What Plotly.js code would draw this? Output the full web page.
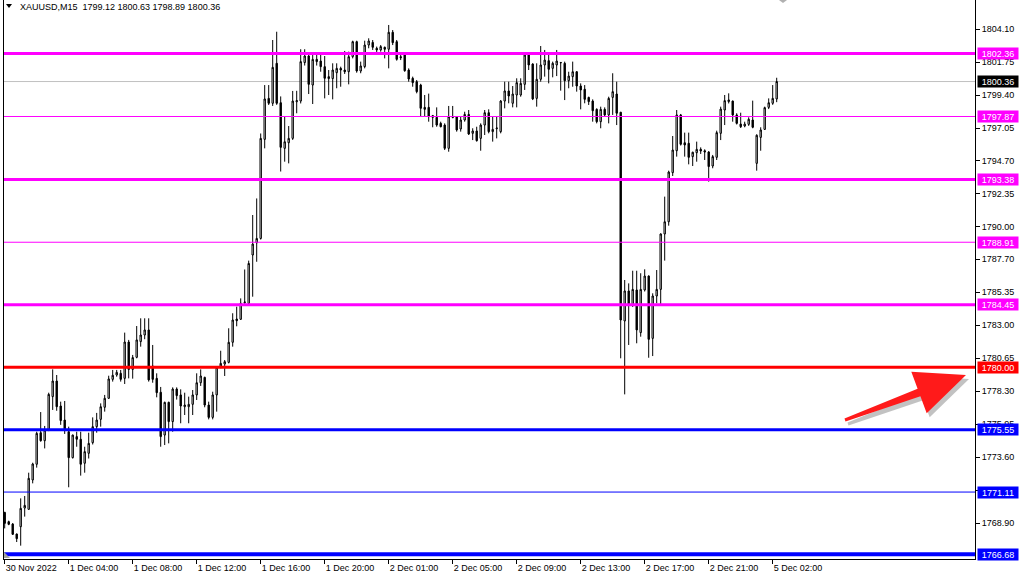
<!DOCTYPE html>
<html><head><meta charset="utf-8">
<script src="https://cdn.plot.ly/plotly-3.0.1.min.js"></script>
<style>html,body{margin:0;padding:0;background:#fff;}#chart{width:1022px;height:578px;}</style>
</head><body><div id="chart"></div>
<script>
// ---- data (XAUUSD M15) ----
const open = [1769.66,1769.00,1768.83,1768.12,1768.64,1769.97,1769.88,1771.97,1773.09,1775.34,1774.77,1775.53,1777.91,1779.02,1777.24,1776.24,1775.41,1773.56,1775.06,1774.87,1773.16,1773.87,1774.63,1775.77,1776.29,1777.15,1777.79,1779.14,1779.45,1779.57,1779.21,1781.80,1779.85,1780.71,1781.83,1782.30,1782.66,1780.09,1779.21,1778.22,1775.17,1777.50,1776.13,1778.45,1778.03,1777.19,1777.19,1777.36,1778.03,1778.90,1779.28,1777.31,1776.43,1778.03,1780.09,1780.23,1780.35,1781.78,1783.44,1783.42,1784.60,1784.55,1788.00,1788.87,1789.18,1796.24,1799.16,1798.81,1801.66,1798.85,1795.60,1796.00,1796.31,1798.92,1798.97,1801.71,1802.18,1800.11,1801.94,1801.82,1801.42,1800.71,1800.57,1800.99,1801.30,1801.18,1801.06,1802.13,1803.20,1801.11,1801.42,1802.96,1803.15,1802.73,1802.61,1802.80,1802.66,1803.87,1803.20,1802.13,1802.25,1801.18,1800.59,1800.35,1800.11,1798.52,1798.52,1797.93,1797.81,1797.38,1797.26,1795.60,1797.86,1797.86,1796.98,1797.62,1798.02,1796.67,1796.84,1796.31,1797.26,1798.14,1796.79,1797.00,1796.79,1798.97,1799.69,1798.81,1799.40,1799.40,1800.16,1802.25,1801.61,1799.16,1800.52,1801.54,1801.85,1801.30,1801.54,1801.72,1801.66,1800.42,1800.71,1801.06,1800.04,1799.81,1799.23,1798.97,1798.38,1797.50,1798.38,1797.98,1799.23,1799.47,1798.17,1783.30,1785.44,1784.44,1785.51,1782.47,1785.51,1786.50,1782.06,1785.08,1785.55,1789.50,1790.37,1793.87,1795.43,1797.98,1796.00,1795.96,1795.01,1795.29,1795.53,1795.43,1795.34,1794.34,1794.96,1796.67,1798.33,1798.93,1798.97,1797.98,1797.33,1797.19,1797.31,1797.62,1794.53,1796.38,1796.95,1798.52,1798.81,1799.12];
const high = [1769.70,1769.07,1768.90,1768.15,1770.66,1770.83,1772.49,1773.20,1775.41,1776.81,1775.82,1778.19,1779.85,1779.45,1777.55,1777.60,1775.77,1775.20,1775.41,1775.41,1774.34,1775.34,1776.43,1776.75,1777.43,1778.03,1779.40,1779.81,1779.81,1779.81,1782.47,1781.95,1780.88,1782.94,1783.49,1783.49,1783.49,1781.59,1779.57,1778.60,1777.55,1777.55,1778.57,1778.57,1778.43,1778.19,1777.91,1778.38,1779.57,1779.85,1779.33,1777.55,1778.26,1780.09,1781.18,1780.52,1782.78,1783.85,1784.32,1784.91,1786.97,1787.60,1790.85,1792.03,1796.66,1800.11,1800.11,1803.32,1803.91,1799.30,1797.90,1797.19,1799.69,1799.70,1802.66,1802.66,1802.30,1802.25,1802.25,1802.37,1802.18,1801.18,1801.66,1801.66,1801.42,1802.54,1802.49,1803.27,1803.27,1801.78,1803.27,1803.44,1803.32,1802.85,1802.96,1802.85,1804.39,1804.03,1803.32,1802.37,1802.37,1801.30,1800.71,1800.47,1800.20,1799.40,1799.50,1797.98,1798.52,1797.50,1797.38,1798.62,1798.62,1797.90,1797.86,1798.21,1798.33,1797.03,1797.14,1797.38,1798.33,1798.38,1797.86,1797.86,1799.04,1800.35,1800.35,1800.04,1800.59,1800.59,1802.37,1802.37,1801.66,1801.66,1802.89,1802.61,1802.37,1801.78,1802.61,1801.75,1801.78,1801.06,1801.78,1801.10,1800.23,1800.11,1799.28,1799.09,1798.45,1798.57,1798.52,1799.28,1800.95,1800.35,1798.20,1786.22,1785.98,1786.88,1786.88,1786.70,1786.98,1786.55,1785.27,1786.93,1789.54,1792.16,1794.01,1796.48,1798.33,1798.05,1796.72,1796.72,1795.36,1796.08,1795.67,1795.53,1795.40,1795.13,1796.86,1798.57,1799.40,1799.52,1799.00,1798.10,1798.14,1797.50,1797.81,1799.00,1796.60,1797.10,1798.57,1799.16,1800.11,1800.63];
const low = [1768.52,1768.75,1768.05,1767.55,1767.29,1769.36,1769.85,1771.73,1772.85,1774.70,1774.22,1775.45,1776.96,1776.90,1775.90,1775.25,1771.45,1773.50,1774.34,1772.28,1772.49,1773.50,1774.50,1775.34,1775.77,1776.84,1777.75,1778.98,1779.33,1778.98,1778.81,1779.21,1779.19,1780.64,1781.47,1782.00,1778.98,1778.90,1777.86,1774.34,1774.46,1774.58,1775.41,1777.70,1776.01,1776.60,1776.01,1776.60,1777.67,1778.67,1777.15,1776.29,1776.29,1776.84,1779.93,1779.38,1780.28,1781.47,1782.92,1783.37,1784.50,1784.50,1785.03,1787.52,1789.10,1795.60,1798.69,1798.62,1798.70,1793.95,1794.65,1794.53,1796.20,1798.10,1798.80,1801.50,1799.47,1798.76,1801.50,1801.06,1799.16,1799.40,1799.09,1799.88,1799.99,1800.90,1800.16,1802.01,1800.99,1800.95,1801.30,1802.73,1802.61,1802.25,1802.49,1802.01,1801.30,1802.96,1801.85,1801.89,1801.06,1800.35,1799.99,1799.52,1797.86,1797.86,1797.50,1797.10,1797.14,1797.10,1795.48,1795.36,1797.74,1796.79,1796.79,1797.50,1796.55,1796.19,1796.08,1795.43,1796.55,1796.67,1796.08,1796.31,1796.67,1798.45,1798.81,1798.52,1798.52,1799.28,1799.76,1801.18,1799.04,1798.57,1800.35,1800.71,1800.23,1800.66,1800.75,1799.71,1799.04,1799.88,1799.99,1799.64,1798.38,1798.81,1798.69,1797.50,1797.38,1797.03,1797.86,1797.38,1797.98,1797.26,1780.64,1778.07,1781.59,1784.30,1781.71,1782.18,1785.40,1780.68,1780.80,1784.56,1784.44,1787.60,1790.09,1793.63,1795.01,1795.80,1795.01,1794.46,1794.34,1794.65,1795.20,1794.77,1793.23,1794.18,1794.77,1796.19,1797.26,1798.80,1797.50,1797.30,1797.05,1797.10,1797.20,1797.03,1794.01,1795.43,1796.91,1798.40,1798.70,1798.89];
const close = [1768.88,1768.81,1768.10,1767.79,1769.95,1770.16,1772.09,1773.11,1775.29,1774.77,1775.53,1778.07,1779.02,1777.19,1776.20,1775.58,1773.56,1775.17,1774.87,1773.09,1773.99,1774.58,1775.77,1776.24,1777.19,1777.79,1779.17,1779.43,1779.64,1779.14,1781.80,1779.85,1780.69,1781.95,1782.30,1782.66,1779.10,1779.14,1778.19,1775.06,1777.50,1776.13,1778.45,1777.98,1777.24,1777.31,1777.36,1778.03,1778.90,1779.38,1777.31,1776.43,1778.03,1780.00,1780.28,1780.40,1781.78,1783.37,1783.32,1784.56,1784.65,1787.40,1788.78,1789.18,1796.31,1799.12,1798.81,1801.37,1798.81,1795.67,1796.07,1796.31,1798.97,1799.00,1801.78,1802.18,1800.16,1801.94,1801.78,1801.42,1800.59,1800.57,1801.18,1801.30,1801.18,1801.06,1802.13,1803.20,1801.11,1801.47,1802.96,1803.25,1802.80,1802.61,1802.85,1802.66,1803.87,1803.13,1801.94,1802.06,1801.13,1800.54,1800.28,1799.64,1798.45,1798.38,1797.86,1797.81,1797.26,1797.14,1795.60,1797.86,1797.81,1796.91,1797.62,1798.02,1796.62,1796.84,1796.15,1797.26,1798.14,1796.79,1796.95,1797.05,1798.97,1799.69,1799.33,1799.47,1800.28,1800.23,1802.25,1801.54,1799.12,1800.52,1801.54,1801.89,1801.23,1801.66,1801.82,1801.70,1800.42,1800.75,1801.06,1800.04,1799.76,1799.09,1798.93,1798.28,1797.50,1798.38,1797.98,1799.16,1799.64,1798.10,1783.37,1785.44,1784.44,1785.55,1782.66,1785.55,1786.50,1781.99,1785.08,1785.55,1789.50,1790.37,1793.91,1795.48,1797.98,1795.89,1795.84,1794.96,1795.32,1795.53,1795.41,1795.34,1794.30,1795.01,1796.72,1798.40,1799.00,1799.05,1797.98,1797.38,1797.14,1797.33,1797.67,1797.10,1796.53,1796.91,1798.50,1798.85,1799.16,1800.36];

const timeTickBars = [0,16,32,48,64,80,96,112,128,144,160,176,192];
const timeTickLabels = ["30 Nov 2022","1 Dec 04:00","1 Dec 08:00","1 Dec 12:00","1 Dec 16:00","1 Dec 20:00","2 Dec 01:00","2 Dec 05:00","2 Dec 09:00","2 Dec 13:00","2 Dec 17:00","2 Dec 21:00","5 Dec 02:00"];
const priceTicks = [1804.10,1801.75,1799.40,1797.05,1794.70,1792.35,1790.00,1787.70,1785.35,1783.00,1780.65,1778.30,1775.95,1773.60,1771.25,1768.90];
// tick labels hidden under a price label in the reference
const hiddenPriceTicks = [1771.25];

const levelPrices = [1802.36,1797.87,1793.38,1788.91,1784.45,1780.00,1775.55,1771.11,1766.68];
const levelColors = ["#FF00FF","#FF00FF","#FF00FF","#FF00FF","#FF00FF","#FF0000","#0000FF","#0000FF","#0000FF"];
const levelWidths = [3,1,3,1,3,3,3,1,4];
const bidPrice = 1800.36;
const headerText = "XAUUSD,M15\u00a0\u00a01799.12 1800.63 1798.89 1800.36";

// ---- helpers for pixel-based decorations ----
const W = 1022, H = 578, L = 3, R = 47, T = 0, B = 19;
const pw = W - L - R, ph = H - T - B;
const PX = px => (px - L) / pw;
const PY = py => (H - B - py) / ph;
function poly(pts, dx, dy) {
  return pts.map((p, k) => (k ? 'L' : 'M') + PX(p[0] + dx).toFixed(5) + ',' + PY(p[1] + dy).toFixed(5)).join(' ') + ' Z';
}

const xs = open.map((_, i) => i);
const fmt = v => v.toFixed(2);

const trace = {
  type: 'candlestick', x: xs, open: open, high: high, low: low, close: close,
  increasing: {line: {color: '#000000', width: 1}, fillcolor: '#FFFFFF'},
  decreasing: {line: {color: '#000000', width: 1}, fillcolor: '#000000'},
  whiskerwidth: 0, hoverinfo: 'skip', showlegend: false
};

const shapes = [];
shapes.push({type: 'line', xref: 'paper', x0: 0, x1: 1, yref: 'y', y0: bidPrice, y1: bidPrice,
  line: {color: '#C0C0C0', width: 1}, layer: 'below'});
levelPrices.forEach((p, k) => {
  shapes.push({type: 'line', xref: 'paper', x0: 0, x1: 1, yref: 'y', y0: p, y1: p,
    line: {color: levelColors[k], width: levelWidths[k]}, layer: 'above'});
});
shapes.push({type: 'line', xref: 'paper', yref: 'paper', x0: PX(3.5), x1: PX(3.5), y0: 0, y1: 1,
  line: {color: '#000', width: 1}});
shapes.push({type: 'path', xref: 'paper', yref: 'paper', path: poly([[6,4],[12,4],[9,8]],0,0),
  fillcolor: '#000', line: {width: 0}});
const arrowPts = [[844.5,418.6],[917.6,388.7],[911.3,371.8],[966,375],[926.7,413.2],[920.4,396.3],[845.5,421.4]];
shapes.push({type: 'path', xref: 'paper', yref: 'paper', path: poly(arrowPts,3,4),
  fillcolor: 'rgba(120,120,120,0.45)', line: {width: 0}, layer: 'above'});
shapes.push({type: 'path', xref: 'paper', yref: 'paper', path: poly(arrowPts,0,0),
  fillcolor: '#FF1A1A', line: {width: 0}, layer: 'above'});
shapes.push({type: 'path', xref: 'paper', yref: 'paper', path: poly([[4,552],[4,558],[10,558]],0,0),
  fillcolor: '#A0A0A0', line: {width: 0}});
shapes.push({type: 'path', xref: 'paper', yref: 'paper', path: poly([[779,0],[787,0],[783,3]],0,0),
  fillcolor: '#B0B0B0', line: {width: 0}});

const annotations = [];
const lblFont = {family: 'Liberation Sans, Arial, sans-serif', size: 9, color: '#FFFFFF'};
levelPrices.forEach((p, k) => {
  annotations.push({xref: 'paper', yref: 'y', x: 1, y: p, xanchor: 'left', yanchor: 'middle', xshift: 2,
    text: fmt(p), showarrow: false, bgcolor: levelColors[k], font: lblFont, width: 38, height: 9, borderpad: 1, align: 'center'});
});
annotations.push({xref: 'paper', yref: 'y', x: 1, y: bidPrice, xanchor: 'left', yanchor: 'middle', xshift: 2,
  text: fmt(bidPrice), showarrow: false, bgcolor: '#000000', font: lblFont, width: 38, height: 9, borderpad: 1, align: 'center'});
annotations.push({xref: 'paper', yref: 'paper', x: PX(18), y: PY(6.5), xanchor: 'left', yanchor: 'middle',
  text: headerText, showarrow: false, font: {family: 'Liberation Sans, Arial, sans-serif', size: 9, color: '#000'}});

const layout = {
  width: W, height: H,
  margin: {l: L, r: R, t: T, b: B, pad: 0},
  paper_bgcolor: '#FFFFFF', plot_bgcolor: '#FFFFFF',
  showlegend: false, hovermode: false, boxgap: 0.5,
  font: {family: 'Liberation Sans, Arial, sans-serif', size: 9, color: '#000'},
  xaxis: {
    type: 'linear', range: [-0.425, 242.575], rangeslider: {visible: false},
    showgrid: false, zeroline: false, showline: true, linecolor: '#000', linewidth: 1,
    ticks: 'outside', ticklen: 4, tickcolor: '#000', tickwidth: 1,
    tickmode: 'array', tickvals: timeTickBars, ticktext: timeTickLabels,
    ticklabelposition: 'outside right',
    tickfont: {family: 'Liberation Sans, Arial, sans-serif', size: 9, color: '#000'}
  },
  yaxis: {
    side: 'right', range: [1766.34, 1806.17], fixedrange: true,
    showgrid: false, zeroline: false, showline: true, linecolor: '#000', linewidth: 1,
    ticks: 'outside', ticklen: 4, tickcolor: '#000', tickwidth: 1,
    tickmode: 'array', tickvals: priceTicks,
    ticktext: priceTicks.map(v => hiddenPriceTicks.includes(v) ? '' : fmt(v)),
    tickfont: {family: 'Liberation Sans, Arial, sans-serif', size: 9, color: '#000'}
  },
  shapes: shapes, annotations: annotations
};

Plotly.newPlot('chart', [trace], layout, {staticPlot: true, displayModeBar: false});
</script></body></html>
